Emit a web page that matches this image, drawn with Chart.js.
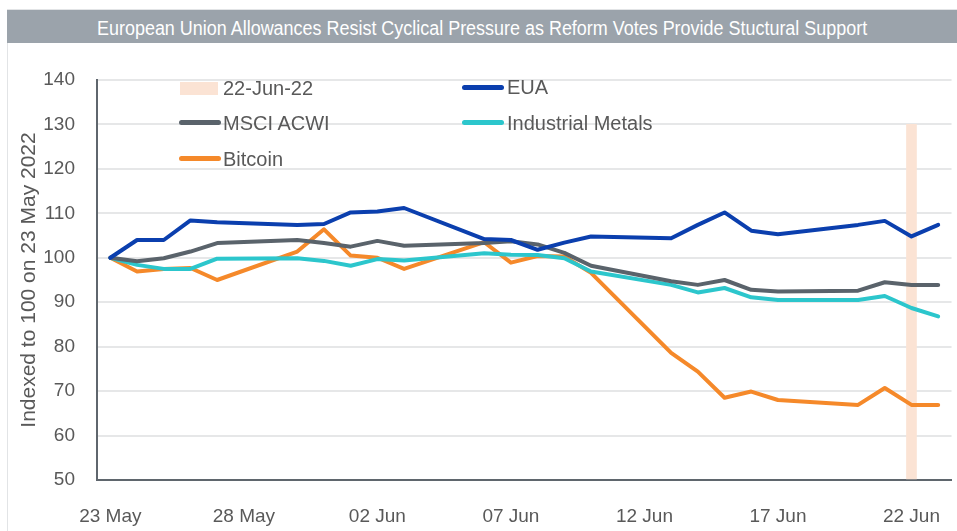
<!DOCTYPE html>
<html>
<head>
<meta charset="utf-8">
<script src="https://cdn.jsdelivr.net/npm/chart.js@4/dist/chart.umd.min.js"></script>
<style>
    body { margin: 0; background: #fff; }
    #wrap { position: relative; width: 957px; height: 531px; overflow: hidden; }
    #frame { position: absolute; left: 7px; top: 9px; width: 960px; height: 540px; border-left: 1px solid #e2e4e6; border-top: 1px solid #e2e4e6; }
    #title {
        position: absolute; left: 7px; top: 10px; width: 950px; height: 33px;
        background: #9ba3ab; color: #fff; text-align: center;
        font: 20px 'Liberation Sans', Arial, sans-serif; line-height: 36px; white-space: nowrap;
    }
    #title span { display: inline-block; transform-origin: 50% 50%; }
    canvas { position: absolute; left: 0; top: 0; }
    .lg { position: absolute; font: 20px 'Liberation Sans', Arial, sans-serif; color: #595959; line-height: 24px; }
    .sw { position: absolute; height: 5px; width: 42px; border-radius: 3px; }
</style>
</head>
<body>
<div id="wrap">
    <div id="frame"></div>
    <div id="title"><span>European Union Allowances Resist Cyclical Pressure as Reform Votes Provide Stuctural Support</span></div>
    <canvas id="chart" width="957" height="531"></canvas>

    <!-- legend, two columns inside the plot -->
    <div class="sw" style="left:180px; top:82px; width:38px; height:13px; border-radius:0; background:#fbe3d4;"></div>
    <div class="lg" style="left:223px; top:76px;">22-Jun-22</div>
    <div class="sw" style="left:462px; top:85px; background:#0b3fae;"></div>
    <div class="lg" style="left:507px; top:75px;">EUA</div>
    <div class="sw" style="left:179px; top:120px; background:#5a636b;"></div>
    <div class="lg" style="left:223px; top:111px;">MSCI ACWI</div>
    <div class="sw" style="left:462px; top:120px; background:#2cc6cc;"></div>
    <div class="lg" style="left:507px; top:111px;">Industrial Metals</div>
    <div class="sw" style="left:179px; top:156px; background:#f5892a;"></div>
    <div class="lg" style="left:223px; top:147px;">Bitcoin</div>
</div>

<script>
/* ── Data (indexed to 100 on 23 May 2022) ── */
const dates = ['2022-05-23', '2022-05-24', '2022-05-25', '2022-05-26', '2022-05-27',
    '2022-05-30', '2022-05-31', '2022-06-01', '2022-06-02', '2022-06-03',
    '2022-06-06', '2022-06-07', '2022-06-08', '2022-06-09', '2022-06-10',
    '2022-06-13', '2022-06-14', '2022-06-15', '2022-06-16', '2022-06-17',
    '2022-06-20', '2022-06-21', '2022-06-22', '2022-06-23'];

const eua = [100, 104.0, 104.0, 108.4, 108.0, 107.4, 107.6, 110.2, 110.4, 111.2,
    104.2, 104.0, 101.8, 103.4, 104.8, 104.4, 107.4, 110.2, 106.1, 105.3,
    107.4, 108.3, 104.8, 107.4];
const msci = [100, 99.2, 99.9, 101.4, 103.3, 104.0, 103.3, 102.5, 103.8, 102.7,
    103.3, 103.7, 103.0, 101.1, 98.2, 94.7, 93.9, 95.0, 92.8, 92.4,
    92.6, 94.5, 93.9, 93.9];
const metals = [100, 98.4, 97.5, 97.5, 99.8, 99.9, 99.3, 98.2, 99.7, 99.4,
    101.0, 100.7, 100.6, 99.9, 96.9, 93.9, 92.2, 93.2, 91.1, 90.5,
    90.5, 91.4, 88.7, 86.8];
const bitcoin = [100, 96.9, 97.5, 97.7, 95.0, 101.4, 106.4, 100.5, 100.0, 97.5,
    103.5, 98.9, 100.4, 100.3, 96.6, 78.6, 74.4, 68.5, 69.9, 68.0,
    66.9, 70.7, 66.9, 66.9];

// highlighted day and its band height
const markerDate = '2022-06-22';
const markerTop = 130;

// x-axis tick dates and their labels
const tickDates = ['2022-05-23', '2022-05-28', '2022-06-02', '2022-06-07', '2022-06-12', '2022-06-17', '2022-06-22'];
const tickLabels = ['23 May', '28 May', '02 Jun', '07 Jun', '12 Jun', '17 Jun', '22 Jun'];

/* ── Helpers ── */
const DAY = 86400000;
const start = Date.parse(dates[0]);
const dayOf = (s) => Math.round((Date.parse(s) - start) / DAY);
const points = (arr) => arr.map((v, i) => ({ x: dayOf(dates[i]), y: v }));
const tickDays = tickDates.map(dayOf);

// squeeze the title to the narrow look of the original
const titleSpan = document.querySelector('#title span');
titleSpan.style.transform = `scaleX(${770 / titleSpan.offsetWidth})`;

const GRAY = '#595959';
Chart.defaults.font.family = "'Liberation Sans', Arial, sans-serif";
Chart.defaults.color = GRAY;

const line = (label, data, color) => ({
    type: 'line',
    label,
    data: points(data),
    borderColor: color,
    borderWidth: 4,
    pointRadius: 0,
    tension: 0,
    borderJoinStyle: 'round',
    borderCapStyle: 'round',
    order: 1
});

new Chart(document.getElementById('chart'), {
    type: 'line',
    data: {
        datasets: [
            {
                type: 'bar',
                label: '22-Jun-22',
                data: [{ x: dayOf(markerDate), y: markerTop }],
                backgroundColor: '#fbe3d4',
                barThickness: 10,
                base: 50,
                order: 10
            },
            line('EUA', eua, '#0b3fae'),
            line('MSCI ACWI', msci, '#5a636b'),
            line('Industrial Metals', metals, '#2cc6cc'),
            line('Bitcoin', bitcoin, '#f5892a')
        ]
    },
    options: {
        responsive: false,
        animation: false,
        layout: { padding: { top: 80, right: -3, left: 0, bottom: 0 } },
        plugins: {
            legend: { display: false },
            tooltip: { enabled: false }
        },
        scales: {
            x: {
                type: 'linear',
                min: -0.5,
                max: 31.5,
                offset: false,
                afterFit: (s) => { s.height = 51; },
                afterBuildTicks: (s) => { s.ticks = tickDays.map(v => ({ value: v })); },
                grid: { display: false },
                border: { display: true, color: '#5f666d', width: 2 },
                ticks: {
                    autoSkip: false,
                    maxRotation: 0,
                    padding: 17,
                    font: { size: 19 },
                    callback: (v) => tickLabels[tickDays.indexOf(v)]
                }
            },
            y: {
                min: 50,
                max: 140,
                afterFit: (s) => { s.width = 97; },
                grid: { color: '#e6e7e8', lineWidth: 2, drawTicks: false },
                border: { display: true, color: '#5f666d', width: 2 },
                ticks: { stepSize: 10, padding: 22, font: { size: 19 } },
                title: {
                    display: true,
                    text: 'Indexed to 100 on 23 May 2022',
                    font: { size: 21 },
                    padding: { top: 17, bottom: 0 }
                }
            }
        }
    }
});
</script>
</body>
</html>
